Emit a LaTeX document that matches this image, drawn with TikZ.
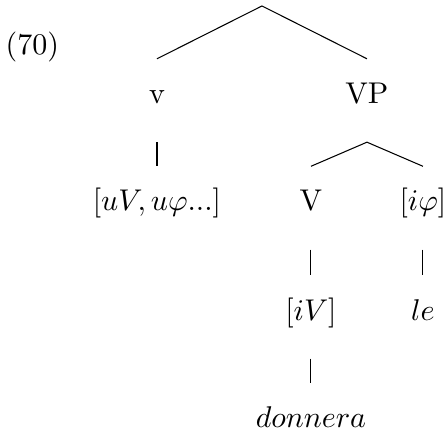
\documentclass[tikz,border=0pt]{standalone}
\usepackage{amsmath}
\usetikzlibrary{positioning}

\tikzset{
  tnode/.style={inner xsep=0pt,inner ysep=0pt,text height=14.7pt,text depth=12.7pt,anchor=base},
  branch/.style={line width=0.35pt}
}

\begin{document}
\begin{tikzpicture}
  \useasboundingbox (0,0) rectangle (5.225,-5.108);

  % example number
  \node[anchor=base west,inner sep=0pt] (num) at (0.059,-0.644) {(70)};

  % tree nodes
  \coordinate (root) at (3.069,-0.070);
  \node[tnode] (v) at (1.839,-1.2125) {v};
  \node[tnode] (vp) at (4.299,-1.2125) {VP};
  \node[tnode] (uf) at (1.839,-2.472) {$[uV, u\varphi...]$};
  \node[tnode] (verb) at (3.643,-2.472) {V};
  \node[tnode] (phi) at (4.955,-2.472) {$[i\varphi]$};
  \node[tnode] (iv) at (3.643,-3.749) {$[iV]$};
  \node[tnode] (le) at (4.955,-3.749) {$le$};
  \node[tnode] (don) at (3.643,-5.014) {$donnera$};

  % branches
  \draw[branch] (root) -- (v.north);
  \draw[branch] (root) -- (vp.north);
  \draw[branch] (v.south) -- (uf.north);
  \draw[branch] (vp.south) -- (verb.north);
  \draw[branch] (vp.south) -- (phi.north);
  \draw[branch] (verb.south) -- (iv.north);
  \draw[branch] (phi.south) -- (le.north);
  \draw[branch] (iv.south) -- (don.north);
\end{tikzpicture}
\end{document}
